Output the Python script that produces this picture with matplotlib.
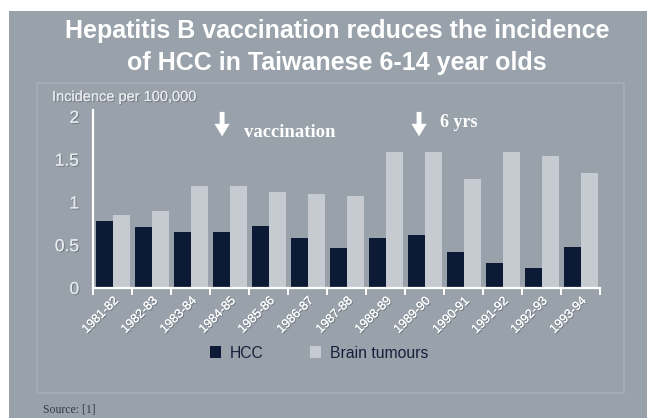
import matplotlib
matplotlib.use("Agg")
import matplotlib.pyplot as plt
import matplotlib.patheffects as pe
from matplotlib.patches import Rectangle, Patch
import numpy as np

categories = ["1981-82", "1982-83", "1983-84", "1984-85", "1985-86", "1986-87",
              "1987-88", "1988-89", "1989-90", "1990-91", "1991-92", "1992-93", "1993-94"]
hcc = [0.78, 0.71, 0.65, 0.65, 0.73, 0.58, 0.47, 0.59, 0.62, 0.42, 0.29, 0.23, 0.48]
brain = [0.85, 0.90, 1.19, 1.19, 1.12, 1.10, 1.08, 1.59, 1.59, 1.27, 1.59, 1.54, 1.34]
yticks = [0, 0.5, 1, 1.5, 2]
ytick_labels = ["0", "0.5", "1", "1.5", "2"]

W, H = 647, 418
BG = "#99a2ab"
NAVY = "#0c1a35"
LIGHT = "#c6cad1"

fig = plt.figure(figsize=(W / 100, H / 100), dpi=100, facecolor="white")

def fx(px):
    return px / W

def fy(py):
    return 1 - py / H

# outer panel
fig.patches.append(Rectangle((fx(9), 0), fx(W - 9), fy(11), transform=fig.transFigure,
                             facecolor=BG, edgecolor="none", zorder=-3))
# inner panel
fig.patches.append(Rectangle((fx(37), fy(393)), fx(624 - 37), (393 - 83) / H,
                             transform=fig.transFigure, facecolor=BG,
                             edgecolor="#a7aeb6", linewidth=1.2, zorder=-2))

shadow = [pe.withSimplePatchShadow(offset=(0.8, -0.8), shadow_rgbFace="#5a626b", alpha=0.6), pe.Normal()]

fig.text(fx(337), fy(31), "Hepatitis B vaccination reduces the incidence",
         ha="center", va="center", fontsize=18, fontweight="bold",
         family="Liberation Sans", color="white")
fig.text(fx(337), fy(63), "of HCC in Taiwanese 6-14 year olds",
         ha="center", va="center", fontsize=18, fontweight="bold",
         family="Liberation Sans", color="white")

ax = fig.add_axes([fx(93), fy(288), fx(600 - 93), (288 - 110) / H])
ax.set_facecolor("none")
x = np.arange(len(categories))
w = 0.435
ax.bar(x - 0.2, hcc, width=w, color=NAVY, zorder=2)
ax.bar(x + 0.235, brain, width=w, color=LIGHT, zorder=2)
ax.set_xlim(-0.5, len(categories) - 0.5)
ax.set_ylim(0, 2.08)

for s in ["top", "right"]:
    ax.spines[s].set_visible(False)
for s in ["left", "bottom"]:
    ax.spines[s].set_color("white")
    ax.spines[s].set_linewidth(1.6)

ax.set_yticks(yticks)
ax.set_yticklabels(ytick_labels)
ax.tick_params(axis="y", length=0, pad=10, labelsize=12.5, labelcolor="#e6e9ec")
for t in ax.get_yticklabels():
    t.set_family("Liberation Sans")
    t.set_path_effects(shadow)

ax.set_xticks(x)
ax.set_xticklabels(categories, rotation=45, ha="right", rotation_mode="anchor")
ax.tick_params(axis="x", which="major", length=0, pad=5, labelsize=9, labelcolor="white")
for t in ax.get_xticklabels():
    t.set_family("Liberation Sans")
    t.set_path_effects(shadow)
ax.set_xticks(np.arange(-0.5, len(categories)), minor=True)
ax.tick_params(axis="x", which="minor", length=5, width=1.4, color="white", direction="out")

fig.text(fx(52), fy(97), "Incidence per 100,000", ha="left", va="center",
         fontsize=10.5, family="Liberation Sans", color="#e8eaed", path_effects=shadow)

# annotations
arrowprops = dict(arrowstyle="simple,head_width=1.1,head_length=0.9,tail_width=0.35",
                  color="white", lw=0)
for xa in [2.81, 7.86]:
    ax.annotate("", xy=(xa, 1.74), xytext=(xa, 2.09), xycoords="data",
                arrowprops=arrowprops, annotation_clip=False)
ax.text(3.38, 1.82, "vaccination", ha="left", va="center", fontsize=13.5,
        fontweight="bold", family="Liberation Serif", color="white", clip_on=False)
ax.text(8.4, 1.93, "6 yrs", ha="left", va="center", fontsize=13,
        fontweight="bold", family="Liberation Serif", color="white", clip_on=False)

handles = [Patch(facecolor=NAVY, edgecolor="none", label="HCC"),
           Patch(facecolor=LIGHT, edgecolor="none", label="Brain tumours")]
fig.legend(handles=handles, loc="center", bbox_to_anchor=(fx(319), fy(353)), ncol=2,
           frameon=False, handlelength=0.7, handleheight=0.85, handletextpad=0.55,
           columnspacing=3.0, prop={"family": "Liberation Sans", "size": 11.3},
           labelcolor="#15203a")

fig.text(fx(43), fy(410), "Source: [1]", ha="left", va="center", fontsize=8.5,
         family="Liberation Serif", color="#353a42")

fig.savefig("out.png", dpi=100, facecolor="white")
